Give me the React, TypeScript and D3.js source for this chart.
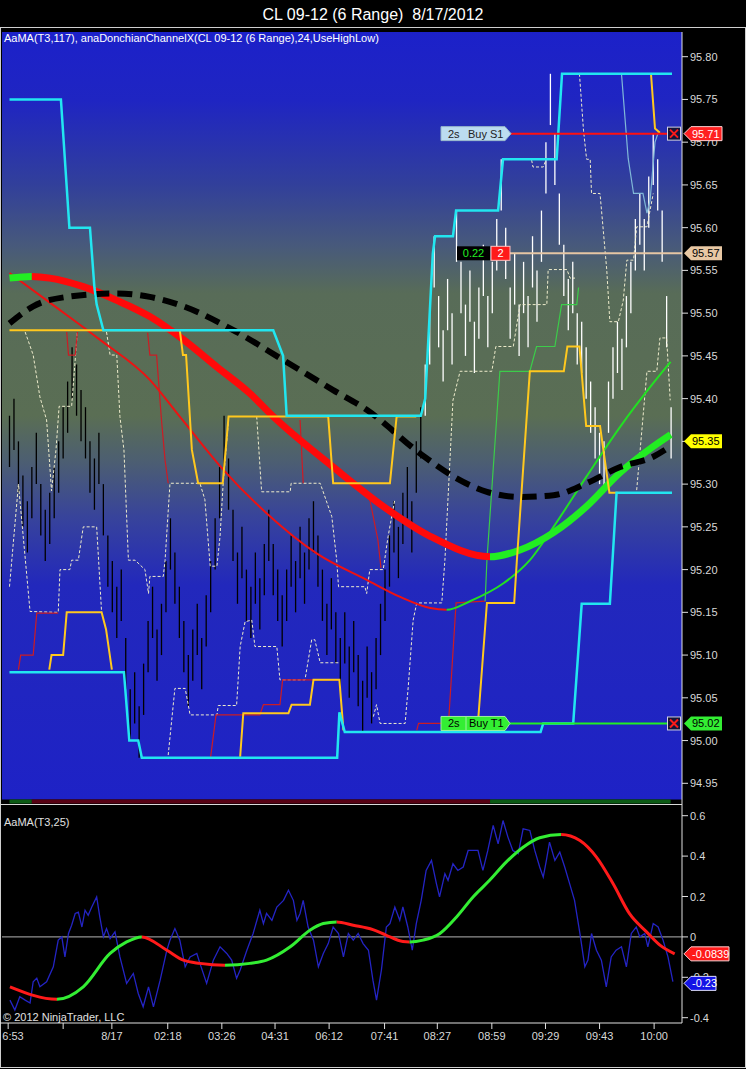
import React from 'react'
import * as d3 from 'd3'

const W = 746
const H = 1069

const title = 'CL 09-12 (6 Range)  8/17/2012'
const legendTop = 'AaMA(T3,117), anaDonchianChannelX(CL 09-12 (6 Range),24,UseHighLow)'
const legendLow = 'AaMA(T3,25)'
const copyright = '\u00a9 2012 NinjaTrader, LLC'

const priceTicks = [94.95, 95.0, 95.05, 95.1, 95.15, 95.2, 95.25, 95.3, 95.35, 95.4, 95.45, 95.5, 95.55, 95.6, 95.65, 95.7, 95.75, 95.8]
const oscTicks = [0.6, 0.4, 0.2, 0, -0.2, -0.4]
const timeTickIdx = [-0.3, 12, 22.9, 35.4, 47.5, 59.4, 71.5, 83.9, 95.7, 107.9, 119.9, 132, 144.2]
const timeTickLabels = ['6:53', '', '8/17', '02:18', '03:26', '04:31', '06:12', '07:41', '08:27', '08:59', '09:29', '09:43', '10:00']

// range bars: 6 ticks each
const RANGE = 0.06
const FIRST_WHITE_BAR = 93
const barLows = [
  95.32, 95.34, 95.29, 95.25, 95.22, 95.26, 95.30, 95.24, 95.21, 95.23,
  95.26, 95.29, 95.33, 95.36, 95.40, 95.38, 95.35, 95.33, 95.29, 95.27,
  95.30, 95.24, 95.18, 95.15, 95.12, 95.14, 95.06, 95.00, 95.02, 94.98,
  95.03, 95.08, 95.12, 95.07, 95.10, 95.15, 95.20, 95.16, 95.12, 95.08,
  95.04, 95.07, 95.10, 95.06, 95.11, 95.15, 95.20, 95.26, 95.32, 95.27,
  95.21, 95.16, 95.19, 95.14, 95.12, 95.16, 95.13, 95.17, 95.21, 95.17,
  95.14, 95.11, 95.14, 95.18, 95.15, 95.19, 95.16, 95.20, 95.22, 95.18,
  95.14, 95.10, 95.13, 95.09, 95.06, 95.09, 95.05, 95.08, 95.04, 95.01,
  95.05, 95.02, 95.06, 95.10, 95.14, 95.18, 95.22, 95.19, 95.23, 95.26,
  95.22, 95.29, 95.33, 95.38, 95.44, 95.53, 95.46, 95.42, 95.48, 95.44,
  95.56, 95.50, 95.45, 95.49, 95.43, 95.47, 95.52, 95.46, 95.50, 95.55,
  95.62, 95.54, 95.47, 95.51, 95.45, 95.50, 95.46, 95.53, 95.49, 95.56,
  95.64, 95.72, 95.65, 95.58, 95.52, 95.48, 95.50, 95.44, 95.43, 95.40,
  95.36, 95.33, 95.30, 95.29, 95.36, 95.40, 95.43, 95.41, 95.46, 95.50,
  95.55, 95.58, 95.55, 95.60, 95.65, 95.62, 95.56, 95.46, 95.33,
]

// [bar index, price]
const donchianUpper = [[0, 95.75], [11.5, 95.75], [13.4, 95.6], [18, 95.6], [19, 95.53], [19.5, 95.51], [21, 95.48], [59, 95.48], [61.2, 95.45], [62, 95.38], [92, 95.38], [93, 95.4], [94.7, 95.57], [95.2, 95.59], [99.2, 95.59], [99.9, 95.62], [109.3, 95.62], [110.4, 95.68], [122.4, 95.68], [123.6, 95.78], [148.2, 95.78]]
const donchianLower = [[0, 95.08], [25.6, 95.08], [26.8, 95.0], [28.8, 95.0], [29.6, 94.98], [73.3, 94.98], [73.8, 95.033], [75, 95.01], [118.8, 95.01], [119.4, 95.02], [126.1, 95.02], [128, 95.16], [134.3, 95.16], [135, 95.22], [135.8, 95.29], [148.2, 95.29]]

const yellowA = [[0, 95.48], [38.1, 95.48], [38.8, 95.451], [39.5, 95.451], [40.8, 95.34], [42.2, 95.301], [47.7, 95.301], [49, 95.379], [71.3, 95.379], [72.4, 95.301], [85.1, 95.301], [86.6, 95.379], [91, 95.379]]
const yellowB = [[8.9, 95.083], [9.4, 95.1], [12, 95.1], [12.8, 95.15], [20.6, 95.15], [21.6, 95.13], [22.9, 95.083]]
const yellowC = [[51.6, 94.981], [52.3, 95.032], [62.4, 95.032], [63.1, 95.042], [67.2, 95.042], [68, 95.071], [73.8, 95.071], [74.7, 95.012]]
const yellowD = [[104.4, 95.02], [104.9, 95.028], [106.8, 95.161], [112.9, 95.161], [113.5, 95.211], [116.4, 95.432], [124, 95.432], [124.8, 95.461], [127.5, 95.461], [129, 95.368], [132.1, 95.368], [134.2, 95.29], [136.1, 95.29]]
const yellowE = [[143.5, 95.78], [144.4, 95.716], [145.5, 95.711]]

const dashA = [[0, 95.18], [2, 95.3], [4.6, 95.151], [10.9, 95.15], [11.3, 95.2], [13.5, 95.2], [13.9, 95.211], [15.4, 95.211], [16.5, 95.25], [19.5, 95.25], [20.6, 95.15]]
const dashB = [[3.5, 95.478], [5.3, 95.451], [6.8, 95.402], [8.3, 95.375], [9.4, 95.292], [10.4, 95.34], [11.1, 95.391], [13.9, 95.391], [15.2, 95.48]]
const dashC = [[21.7, 95.478], [22.5, 95.451], [24, 95.451], [24.7, 95.379], [25.6, 95.34], [26.6, 95.211], [28.1, 95.211], [30.3, 95.2], [31.1, 95.172], [31.4, 95.192], [34.4, 95.192], [34.8, 95.211], [35.9, 95.301], [42.6, 95.301], [43.7, 95.282], [44.9, 95.204], [46.4, 95.204], [47.1, 95.239], [47.8, 95.301], [49, 95.375]]
const dashD = [[55.3, 95.379], [56.4, 95.291], [62.8, 95.291], [63, 95.301], [69.5, 95.301], [72.1, 95.262], [73.2, 95.211], [73.6, 95.18], [79.5, 95.18], [79.9, 95.172], [80.6, 95.2], [83.6, 95.2], [84.7, 95.239], [86.2, 95.282]]
const dashE = [[35.5, 94.983], [37, 95.061], [39.3, 95.061], [40.4, 95.03], [46.4, 95.03], [46.7, 95.041], [50.8, 95.041], [51.6, 95.11], [52.7, 95.139], [54.2, 95.141], [54.9, 95.11], [59.8, 95.11], [60.5, 95.071], [66.1, 95.071], [67.6, 95.118], [68.3, 95.118], [69.5, 95.091], [73.9, 95.091]]
const dashF = [[81.4, 95.028], [82.1, 95.042], [82.9, 95.02], [88.5, 95.02], [89.2, 95.063], [90.3, 95.141], [91.1, 95.161], [96.7, 95.161], [97.4, 95.211], [99.2, 95.398], [100.8, 95.432], [107.9, 95.432], [108.8, 95.461], [112.7, 95.461], [114.2, 95.51], [120.2, 95.51], [120.5, 95.551], [124.7, 95.551], [125.4, 95.541], [126.5, 95.541]]
const dashG = [[127.5, 95.78], [128.4, 95.714], [129.1, 95.68], [129.9, 95.68], [130.2, 95.64], [132.1, 95.64], [133.6, 95.551], [134.3, 95.49], [136.2, 95.49], [137.3, 95.515], [138.1, 95.562], [139.6, 95.562], [140.3, 95.601], [142.6, 95.601], [144, 95.64]]
const dashH = [[140.3, 95.293], [142.6, 95.432], [144.8, 95.432], [145.5, 95.471], [147, 95.471], [147.8, 95.398]]
const dashI = [[116.8, 95.679], [117.1, 95.671], [119.4, 95.671], [120, 95.679]]

const thinRedA = [[2, 95.083], [2.5, 95.1], [5.3, 95.1], [6.1, 95.149], [10.9, 95.149]]
const thinRedB = [[12.8, 95.478], [13.2, 95.451], [14.7, 95.451], [15.2, 95.478]]
const thinRedC = [[30.9, 95.477], [31.4, 95.451], [32.9, 95.451], [34, 95.375], [34.8, 95.328], [35.5, 95.301]]
const thinRedD = [[45, 94.981], [46.2, 95.03], [56, 95.03], [56.8, 95.042], [60.5, 95.042], [61.1, 95.071], [73.9, 95.071]]
const thinRedE = [[65, 95.375], [65.7, 95.301]]
const thinRedF = [[80.6, 95.282], [82.4, 95.235], [83.1, 95.202]]
const thinRedG = [[91.1, 95.012], [91.5, 95.02], [98.2, 95.02], [99.9, 95.161], [106.4, 95.163]]
const thinGreen = [[106.4, 95.163], [106.8, 95.211], [109.7, 95.432], [116.4, 95.432], [117.9, 95.461], [122, 95.461], [123.5, 95.51], [126.9, 95.51], [127.3, 95.53]]
const thinTeal = [[136.9, 95.78], [138.4, 95.681], [139.6, 95.64], [141.7, 95.64], [142.6, 95.617], [143.3, 95.632], [144.4, 95.7], [145.1, 95.711]]

// AaMA(T3,117)
const t3Idx = [0, 5, 9, 16.5, 24, 31.4, 38.9, 46.4, 53.8, 59, 72.4, 83.6, 94.1, 107.5, 114.2, 121.6, 129.1, 136.5, 144, 147.9]
const t3Val = [95.541, 95.543, 95.541, 95.531, 95.515, 95.496, 95.469, 95.437, 95.406, 95.379, 95.32, 95.274, 95.239, 95.215, 95.223, 95.243, 95.274, 95.313, 95.344, 95.358]
// faster moving average
const maIdx = [0, 9.1, 20.2, 31.4, 38.1, 47.8, 57.5, 68.7, 79.9, 87.4, 94.1, 97.8, 103, 110.5, 116.4, 121.7, 129.1, 136.6, 144, 147.9]
const maVal = [95.547, 95.512, 95.469, 95.422, 95.379, 95.317, 95.266, 95.219, 95.188, 95.168, 95.155, 95.153, 95.163, 95.184, 95.211, 95.25, 95.309, 95.367, 95.418, 95.443]
// black dashed average
const dashAvgIdx = [0, 5.3, 12.8, 24, 31.4, 38.9, 50.1, 61.3, 72.4, 79.9, 91.8, 99.3, 106.8, 114.2, 121.7, 129.1, 136.6, 144, 147.8]
const dashAvgVal = [95.488, 95.508, 95.519, 95.523, 95.519, 95.508, 95.48, 95.445, 95.41, 95.387, 95.336, 95.309, 95.291, 95.285, 95.287, 95.301, 95.32, 95.332, 95.344]

// lower panel: AaMA(T3,25) and raw oscillator
const oscT3 = [[0.1, -0.247], [10.6, -0.309], [16.5, -0.247], [22.5, -0.082], [26.2, -0.025], [29.6, 0.0], [35.2, -0.066], [38.9, -0.115], [42.6, -0.131], [48.2, -0.14], [53.8, -0.131], [57.5, -0.115], [62.8, -0.049], [67.2, 0.033], [70.2, 0.066], [73.2, 0.074], [76.9, 0.058], [81.3, 0.036], [84.3, 0.008], [88, -0.023], [89.5, -0.025], [92.5, -0.016], [96.2, 0.016], [100, 0.099], [103.7, 0.198], [107.4, 0.28], [111.1, 0.37], [114.9, 0.444], [118.6, 0.491], [123.4, 0.507], [127.6, 0.477], [131.3, 0.395], [135, 0.264], [138.7, 0.115], [142.5, 0.025], [145.5, -0.041], [148.8, -0.0839]]
const oscRaw = [[0.1, -0.313], [1.2, -0.362], [2.3, -0.296], [3.5, -0.313], [4.6, -0.327], [5.3, -0.222], [6.1, -0.204], [6.8, -0.247], [8.3, -0.222], [9.8, -0.148], [10.9, -0.016], [11.7, 0], [12.4, -0.099], [13.2, 0.017], [13.9, 0.058], [14.7, 0.116], [15.4, 0.123], [16.2, 0.049], [16.9, 0.132], [17.6, 0.107], [18.4, 0.148], [19.5, 0.198], [20.2, 0.099], [21, 0], [21.7, 0.041], [22.5, -0.008], [23.6, 0.025], [24.7, -0.099], [26.2, -0.23], [27.7, -0.181], [28.8, -0.28], [29.9, -0.346], [31.1, -0.247], [32.2, -0.346], [33.7, -0.214], [35.2, -0.066], [35.9, -0.016], [37, 0.041], [38.1, -0.016], [39.3, -0.148], [40.4, -0.099], [41.9, -0.082], [42.6, -0.131], [44.1, -0.23], [45.6, -0.115], [47.1, -0.049], [48.6, -0.082], [49.7, -0.115], [50.8, -0.205], [51.6, -0.164], [53.1, -0.066], [54.5, 0.017], [56, 0.132], [56.8, 0.066], [57.5, 0.116], [58.7, 0.082], [59.8, 0.148], [61.3, 0.181], [62.4, 0.231], [63.5, 0.181], [64.3, 0.082], [65, 0.116], [65.7, 0.181], [66.8, 0.049], [68, -0.016], [69.1, -0.148], [70.2, -0.082], [71.3, -0.033], [72.4, 0.049], [73.6, 0.017], [74.7, -0.099], [75.8, 0.017], [76.9, -0.016], [78, 0.017], [79.1, -0.033], [80.3, -0.066], [81.3, -0.214], [82.1, -0.313], [83.2, -0.164], [84.3, 0.049], [85.1, 0.066], [86.2, 0.148], [87.3, 0.082], [88, 0.148], [89.1, 0.049], [90.1, -0.066], [91, 0.066], [92.1, 0.181], [93.2, 0.329], [94.4, 0.379], [95.5, 0.264], [96.2, 0.198], [97.4, 0.313], [98.1, 0.28], [99.2, 0.362], [100.3, 0.329], [101.5, 0.346], [102.6, 0.428], [103.7, 0.428], [104.8, 0.428], [105.9, 0.329], [107, 0.428], [108.2, 0.552], [109.3, 0.461], [110.4, 0.576], [111.5, 0.494], [112.6, 0.428], [113.8, 0.412], [114.9, 0.535], [116.4, 0.527], [117.5, 0.428], [118.6, 0.346], [119.4, 0.296], [120.1, 0.379], [120.8, 0.469], [122, 0.379], [123.1, 0.42], [124.2, 0.346], [125.3, 0.264], [126.4, 0.181], [127.6, 0.017], [128.7, -0.148], [129.4, -0.115], [130.2, 0.017], [131.3, -0.066], [132.4, -0.115], [133.5, -0.247], [134.6, -0.099], [135.7, -0.066], [136.9, -0.049], [138, -0.148], [139.1, 0.017], [140.2, 0.049], [141, 0], [142.1, 0.017], [142.8, -0.049], [144, 0.066], [145.1, 0.049], [146.2, -0.016], [147.3, -0.099], [148.4, -0.222]]

// chart trader orders and markers
const stopPrice = 95.71
const entryPrice = 95.57
const targetPrice = 95.02
const lastPrice = 95.35
const openPnl = '0.22'
const qty = '2'
const oscT3Last = '-0.0839'
const oscRawLast = '-0.23'

const FONT = 'Liberation Sans, Arial, sans-serif'
const PL = 2
const PR = 682
const PT = 32
const PB = 800

function slopeRuns(data: number[][]) {
  const runs: { up: boolean; from: number; to: number }[] = []
  for (let k = 0; k < data.length - 1; k++) {
    const up = data[k + 1][1] >= data[k][1]
    const last = runs[runs.length - 1]
    if (last && last.up === up) last.to = data[k + 1][0]
    else runs.push({ up, from: data[k][0], to: data[k + 1][0] })
  }
  return runs
}

export default function App() {
  const x = d3.scaleLinear().domain([0, 148]).range([9.5, 671.1])
  const yP = d3.scaleLinear().domain([94.95, 95.8]).range([783.3, 56.7])
  const yO = d3.scaleLinear().domain([-0.4, 0.6]).range([1017.7, 815.7])

  const lineP = d3.line<number[]>().x(d => x(d[0])).y(d => yP(d[1]))
  const smoothP = d3.line<number[]>().x(d => x(d[0])).y(d => yP(d[1])).curve(d3.curveMonotoneX)
  const lineO = d3.line<number[]>().x(d => x(d[0])).y(d => yO(d[1]))
  const smoothO = d3.line<number[]>().x(d => x(d[0])).y(d => yO(d[1])).curve(d3.curveMonotoneX)

  const t3 = t3Idx.map((d, i) => [d, t3Val[i]])
  const ma = maIdx.map((d, i) => [d, maVal[i]])
  const dashAvg = dashAvgIdx.map((d, i) => [d, dashAvgVal[i]])

  const coloredCurve = (key: string, data: number[][], gen: any, width: number, up: string, down: string, yTop: number, yBot: number) => {
    const runs = slopeRuns(data)
    const d = gen(data)
    return (
      <g key={key}>
        <defs>
          {runs.map((r, k) => {
            const x0 = k === 0 ? 0 : x(r.from)
            const x1 = k === runs.length - 1 ? W : x(r.to)
            return (
              <clipPath id={`${key}-${k}`} key={k}>
                <rect x={x0} y={yTop} width={x1 - x0} height={yBot - yTop} />
              </clipPath>
            )
          })}
        </defs>
        {runs.map((r, k) => (
          <path key={k} d={d} fill="none" stroke={r.up ? up : down} strokeWidth={width} clipPath={`url(#${key}-${k})`} />
        ))}
      </g>
    )
  }

  const t3Runs = slopeRuns(t3)

  const dashes = [dashA, dashB, dashC, dashD, dashE, dashF, dashG, dashH, dashI]
  const thinReds = [thinRedA, thinRedB, thinRedC, thinRedD, thinRedE, thinRedF, thinRedG]
  const yellows = [yellowA, yellowB, yellowC, yellowD, yellowE]

  const marker = (y: number, text: string, fill: string, color: string, w: number, stroke = 'none') => (
    <g>
      <path d={`M684,${y} L691,${y - 7} H${691 + w} V${y + 7} H691 Z`} fill={fill} stroke={stroke} strokeWidth={1} />
      <text x={692} y={y} dominantBaseline="central" fontSize={11} fill={color} fontFamily={FONT}>{text}</text>
    </g>
  )

  const xBox = (y: number) => (
    <g>
      <rect x={667.5} y={y - 6.5} width={13} height={13} fill="#14143a" stroke="#d0d0e0" />
      <path d={`M670,${y - 4} L678,${y + 4} M678,${y - 4} L670,${y + 4}`} stroke="#ff1a1a" strokeWidth={2} />
    </g>
  )

  const yS = yP(stopPrice)
  const yE = yP(entryPrice)
  const yT = yP(targetPrice)
  const yL = yP(lastPrice)

  return (
    <>
      <style>{'body{margin:0;background:#000;}'}</style>
      <svg width={W} height={H} viewBox={`0 0 ${W} ${H}`} style={{ display: 'block', background: '#000' }} fontFamily={FONT}>
        <defs>
          <linearGradient id="bg" gradientUnits="userSpaceOnUse" x1={0} y1={PT} x2={0} y2={PB}>
            <stop offset="0" stopColor="#1c21c9" />
            <stop offset="0.09" stopColor="#1f25c2" />
            <stop offset="0.2" stopColor="#32409a" />
            <stop offset="0.28" stopColor="#485a7a" />
            <stop offset="0.34" stopColor="#586c58" />
            <stop offset="0.5" stopColor="#5a6e54" />
            <stop offset="0.56" stopColor="#4c5e72" />
            <stop offset="0.63" stopColor="#38449a" />
            <stop offset="0.72" stopColor="#2228bc" />
            <stop offset="1" stopColor="#1e22c6" />
          </linearGradient>
          <clipPath id="plotClip">
            <rect x={PL} y={PT} width={PR - PL} height={PB - PT} />
          </clipPath>
          <clipPath id="lowClip">
            <rect x={PL} y={805} width={PR - PL} height={1023 - 805} />
          </clipPath>
        </defs>

        {/* title */}
        <text x={W / 2} y={20} textAnchor="middle" fontSize={16} fill="#fff" xmlSpace="preserve" style={{ whiteSpace: 'pre' }}>{title}</text>
        <rect x={0.5} y={27.5} width={W - 1} height={1040} fill="none" stroke="#cfcfcf" />

        {/* price panel */}
        <rect x={PL} y={PT} width={PR - PL} height={PB - PT} fill="url(#bg)" />
        <g clipPath="url(#plotClip)">
          {barLows.map((lo, i) => (
            <line key={i} x1={x(i)} x2={x(i)} y1={yP(lo)} y2={yP(lo + RANGE)} stroke={i >= FIRST_WHITE_BAR ? '#ffffff' : '#000000'} strokeWidth={1.3} />
          ))}
          {dashes.map((d, i) => (
            <path key={i} d={lineP(d)!} fill="none" stroke="#eeeccc" strokeWidth={1} strokeDasharray="3 2" />
          ))}
          {thinReds.map((d, i) => (
            <path key={i} d={lineP(d)!} fill="none" stroke="#cc1c24" strokeWidth={1.2} />
          ))}
          <path d={lineP(thinGreen)!} fill="none" stroke="#3ccc4a" strokeWidth={1.2} />
          <path d={lineP(thinTeal)!} fill="none" stroke="#80b8d8" strokeWidth={1.2} />
          {coloredCurve('ma', ma, smoothP, 2, '#22e022', '#ee1212', PT, PB)}
          {coloredCurve('t3', t3, smoothP, 7, '#22ee22', '#ff0a0a', PT, PB)}
          <path d={smoothP(dashAvg)!} fill="none" stroke="#000" strokeWidth={6} strokeDasharray="15 8" />
          {yellows.map((d, i) => (
            <path key={i} d={lineP(d)!} fill="none" stroke="#ffc81e" strokeWidth={2} />
          ))}
          <path d={lineP(donchianUpper)!} fill="none" stroke="#22e6f0" strokeWidth={2.5} />
          <path d={lineP(donchianLower)!} fill="none" stroke="#22e6f0" strokeWidth={2.5} />

          {/* chart trader lines */}
          <line x1={511} x2={667} y1={yS} y2={yS} stroke="#ff1010" strokeWidth={2} />
          <line x1={510} x2={PR} y1={yE} y2={yE} stroke="#e6c6a4" strokeWidth={2} />
          <line x1={510} x2={667} y1={yT} y2={yT} stroke="#22ee22" strokeWidth={2} />
        </g>
        <text x={4} y={42} fontSize={11} fill="#fff">{legendTop}</text>

        {/* trend strip */}
        <rect x={PL} y={799.5} width={PR - PL} height={4} fill="#000" />
        {t3Runs.map((r, k) => (
          <rect key={k} x={x(r.from)} y={799.5} width={x(r.to) - x(r.from)} height={4} fill={r.up ? '#0b5a14' : '#560012'} />
        ))}
        <line x1={0} x2={PR} y1={804.5} y2={804.5} stroke="#d8d8d8" />

        {/* order labels */}
        <path d={`M441,${yS - 7} H505 L511,${yS} L505,${yS + 7} H441 Z`} fill="#bcdcf0" stroke="#98b8cc" />
        <text x={448} y={yS} dominantBaseline="central" fontSize={11} fill="#222">2s</text>
        <text x={468} y={yS} dominantBaseline="central" fontSize={11} fill="#222">Buy S1</text>
        {xBox(yS)}
        <rect x={457} y={yE - 7} width={33} height={14} fill="#000" />
        <text x={473.5} y={yE} textAnchor="middle" dominantBaseline="central" fontSize={11} fill="#22ee22">{openPnl}</text>
        <rect x={491} y={yE - 7} width={19} height={14} fill="#ff1a1a" stroke="#ffc0c0" />
        <text x={500.5} y={yE} textAnchor="middle" dominantBaseline="central" fontSize={11} fill="#fff">{qty}</text>
        <path d={`M441,${yT - 7} H505 L510,${yT} L505,${yT + 7} H441 Z`} fill="#33ee33" stroke="#a0f0a0" />
        <line x1={466} x2={466} y1={yT - 7} y2={yT + 7} stroke="#a0f0a0" />
        <text x={448} y={yT} dominantBaseline="central" fontSize={11} fill="#000">2s</text>
        <text x={469} y={yT} dominantBaseline="central" fontSize={11} fill="#000">Buy T1</text>
        {xBox(yT)}

        {/* price axis */}
        <line x1={PR} x2={PR} y1={PT} y2={1023} stroke="#e0e0e0" />
        {priceTicks.map(t => (
          <g key={t}>
            <line x1={PR} x2={PR + 6} y1={yP(t)} y2={yP(t)} stroke="#e0e0e0" />
            <text x={PR + 8} y={yP(t)} dominantBaseline="central" fontSize={11} fill="#d8d8d8">{t.toFixed(2)}</text>
          </g>
        ))}
        {marker(yS, stopPrice.toFixed(2), '#ff2020', '#fff', 31, '#ffd0d0')}
        {marker(yE, entryPrice.toFixed(2), '#e8c8a4', '#000', 31)}
        {marker(yL, lastPrice.toFixed(2), '#ffff00', '#000', 31)}
        {marker(yT, targetPrice.toFixed(2), '#33ee33', '#000', 31)}

        {/* oscillator panel */}
        <text x={4} y={826} fontSize={11} fill="#e0e0e0">{legendLow}</text>
        <line x1={PL} x2={PR} y1={yO(0)} y2={yO(0)} stroke="#b4b4b4" />
        <g clipPath="url(#lowClip)">
          <path d={lineO(oscRaw)!} fill="none" stroke="#2424c4" strokeWidth={1.3} />
          {coloredCurve('osc', oscT3, smoothO, 3, '#33ee33', '#ff1a1a', 805, 1023)}
        </g>
        <text x={3} y={1021} fontSize={11} fill="#e0e0e0">{copyright}</text>
        {oscTicks.map(t => (
          <g key={t}>
            <line x1={PR} x2={PR + 6} y1={yO(t)} y2={yO(t)} stroke="#e0e0e0" />
            <text x={PR + 8} y={yO(t)} dominantBaseline="central" fontSize={11} fill="#d8d8d8">{t === 0 ? '0' : String(t)}</text>
          </g>
        ))}
        {marker(yO(-0.0839), oscT3Last, '#ff1a1a', '#fff', 38, '#ffd0d0')}
        {marker(yO(-0.23), oscRawLast, '#1414e6', '#fff', 25, '#e0e0ff')}

        {/* time axis */}
        <line x1={0} x2={PR} y1={1023} y2={1023} stroke="#e0e0e0" />
        {timeTickIdx.map((t, i) => (
          <g key={i}>
            <line x1={x(t)} x2={x(t)} y1={1023} y2={1029} stroke="#e0e0e0" />
            <text x={Math.max(x(t), 13)} y={1040} textAnchor="middle" fontSize={11} fill="#d8d8d8">{timeTickLabels[i]}</text>
          </g>
        ))}
      </svg>
    </>
  )
}
